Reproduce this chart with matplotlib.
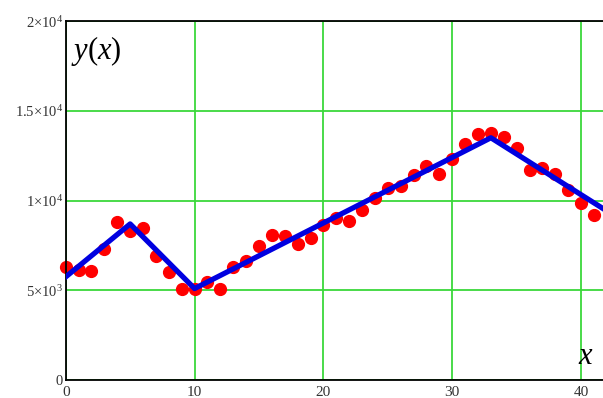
import matplotlib
matplotlib.use("AGG")
import matplotlib.pyplot as plt
import numpy as np

plt.rcParams['font.family'] = ['Liberation Serif', 'DejaVu Serif']
plt.rcParams['mathtext.default'] = 'regular'
plt.rcParams['mathtext.fontset'] = 'custom'
plt.rcParams['mathtext.rm'] = 'Liberation Serif'
plt.rcParams['mathtext.it'] = 'Liberation Serif:italic'

# measured points
x_data = np.arange(0, 42)
y_data = [6300, 6150, 6100, 7300, 8800, 8300, 8450, 6900, 6000, 5100,
          5050, 5450, 5100, 6300, 6650, 7450, 8100, 8000, 7600, 7900,
          8650, 9050, 8850, 9500, 10150, 10700, 10800, 11450, 11900, 11500,
          12300, 13150, 13700, 13750, 13550, 12950, 11700, 11800, 11500, 10600,
          9850, 9200]

# piecewise fit
x_fit = [0, 5, 10, 33, 42]
y_fit = [5750, 8700, 5100, 13500, 9420]

y_ticks = [0, 5000, 10000, 15000, 20000]
y_labels = ['0', r'$5{\times}10^{3}$', r'$1{\times}10^{4}$',
            r'$1.5{\times}10^{4}$', r'$2{\times}10^{4}$']
x_ticks = [0, 10, 20, 30, 40]

fig = plt.figure(figsize=(6.03, 3.98), dpi=100)
ax = fig.add_axes([0.109, 0.045, 0.891, 0.902])

ax.plot(x_data, y_data, 'o', color='#ff0000', markersize=8.5, zorder=2, clip_on=False)
ax.plot(x_fit, y_fit, '-', color='#0000e0', linewidth=3.8, zorder=3)

ax.set_xlim(0, 41.7)
ax.set_ylim(0, 20000)
ax.set_xticks(x_ticks)
ax.set_yticks(y_ticks)
ax.set_xticklabels([str(v) for v in x_ticks], fontsize=11, color='#333333')
ax.set_yticklabels(y_labels, fontsize=10.5, color='#333333')
ax.tick_params(axis='x', length=0, pad=4)
ax.tick_params(axis='y', length=0, pad=2)

ax.grid(True, color='#3ad83a', linewidth=1.3)
ax.set_axisbelow(True)
for side in ['left', 'bottom', 'top']:
    ax.spines[side].set_color('black')
    ax.spines[side].set_linewidth(1.3)
ax.spines['right'].set_visible(False)

# axis names: italic variables, upright brackets
ax.text(0.01, 0.965, r'$\mathit{y}(\mathit{x})$', transform=ax.transAxes,
        fontsize=22, va='top', ha='left')
ax.text(0.982, 0.025, r'$\mathit{x}$', transform=ax.transAxes, fontsize=22,
        va='bottom', ha='right')

plt.savefig('out.png', dpi=100)
